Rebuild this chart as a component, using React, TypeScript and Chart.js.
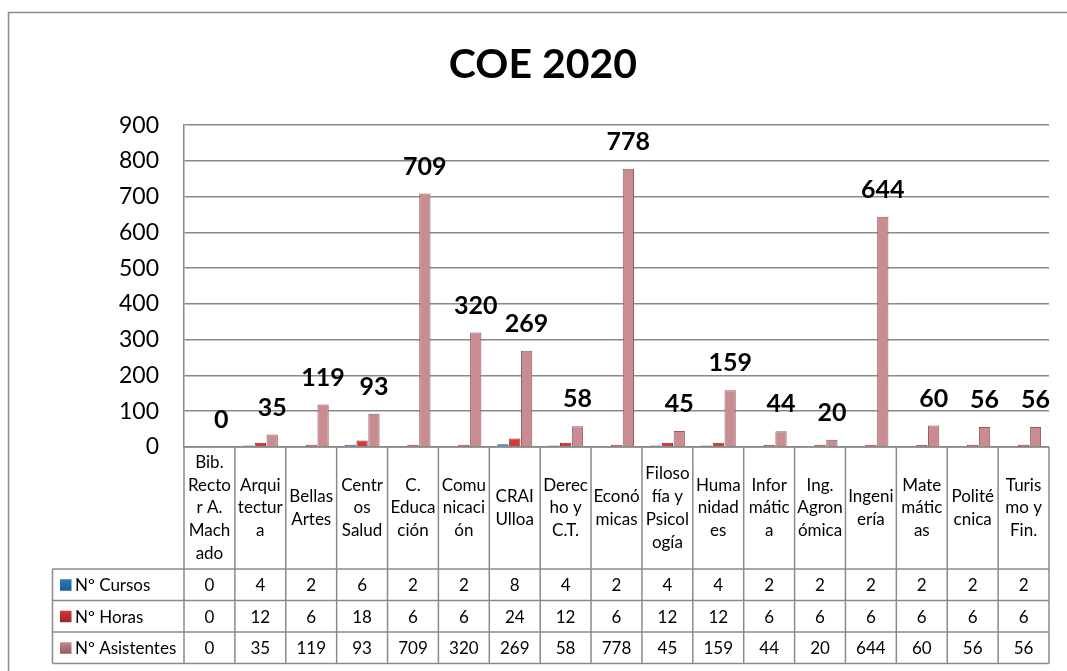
import React, { useEffect, useRef } from "react";
import { Chart, registerables } from "chart.js";

Chart.register(...registerables);

const categories = [
  "Bib. Rector A. Machado", "Arquitectura", "Bellas Artes", "Centros Salud", "C. Educación",
  "Comunicación", "CRAI Ulloa", "Derecho y C.T.", "Económicas", "Filosofía y Psicología",
  "Humanidades", "Informática", "Ing. Agronómica", "Ingeniería", "Matemáticas", "Politécnica", "Turismo y Fin.",
];
const categoryLines = [
  ["Bib.", "Recto", "r A.", "Mach", "ado"],
  ["Arqui", "tectur", "a"],
  ["Bellas", "Artes"],
  ["Centr", "os", "Salud"],
  ["C.", "Educa", "ción"],
  ["Comu", "nicaci", "ón"],
  ["CRAI", "Ulloa"],
  ["Derec", "ho y", "C.T."],
  ["Econó", "micas"],
  ["Filoso", "fía y", "Psicol", "ogía"],
  ["Huma", "nidad", "es"],
  ["Infor", "mátic", "a"],
  ["Ing.", "Agron", "ómica"],
  ["Ingeni", "ería"],
  ["Mate", "mátic", "as"],
  ["Polité", "cnica"],
  ["Turis", "mo y", "Fin."],
];
const seriesNames = ["Nº Cursos", "Nº Horas", "Nº Asistentes"];
const cursos = [0, 4, 2, 6, 2, 2, 8, 4, 2, 4, 4, 2, 2, 2, 2, 2, 2];
const horas = [0, 12, 6, 18, 6, 6, 24, 12, 6, 12, 12, 6, 6, 6, 6, 6, 6];
const asistentes = [0, 35, 119, 93, 709, 320, 269, 58, 778, 45, 159, 44, 20, 644, 60, 56, 56];
const yTicks = [0, 100, 200, 300, 400, 500, 600, 700, 800, 900];

const FONT = "Lato, 'Open Sans', sans-serif";
const fills = ["#2F7BC0", "#D23A3A", "#C98D91"];
const borders = ["#1D5A92", "#9E2626", "#95595D"];

const tablePlugin = {
  id: "tablePlugin",
  beforeDraw(chart: any) {
    const ctx = chart.ctx;
    ctx.save();
    ctx.fillStyle = "#ffffff";
    ctx.fillRect(0, 0, chart.width, chart.height);
    ctx.strokeStyle = "#8a8a8a";
    ctx.lineWidth = 1.5;
    ctx.beginPath();
    ctx.moveTo(8.5, chart.height);
    ctx.lineTo(8.5, 12.5);
    ctx.lineTo(chart.width, 12.5);
    ctx.stroke();
    ctx.restore();
  },
  afterDatasetsDraw(chart: any) {
    const ctx = chart.ctx;
    const area = chart.chartArea;
    const xs = chart.scales.x;
    const n = categories.length;
    const colW = (area.right - area.left) / n;
    const headerBottom = area.bottom + 122;
    const rowH = 31.5;
    const legendLeft = 52.5;
    ctx.save();

    // data labels for Asistentes
    const meta = chart.getDatasetMeta(2);
    ctx.font = `bold 25px ${FONT}`;
    ctx.fillStyle = "#000";
    ctx.textAlign = "center";
    ctx.textBaseline = "middle";
    meta.data.forEach((bar: any, i: number) => {
      ctx.fillText(String(asistentes[i]), bar.x, bar.y - 27);
    });

    // table grid
    ctx.strokeStyle = "#8a8a8a";
    ctx.lineWidth = 1.5;
    ctx.beginPath();
    ctx.moveTo(area.left, area.bottom);
    ctx.lineTo(area.right, area.bottom);
    for (let i = 0; i <= n; i++) {
      const xx = i < n ? xs.getPixelForValue(i) - colW / 2 : xs.getPixelForValue(n - 1) + colW / 2;
      ctx.moveTo(xx, area.bottom);
      ctx.lineTo(xx, headerBottom + rowH * 3);
    }
    ctx.moveTo(legendLeft, headerBottom);
    ctx.lineTo(legendLeft, headerBottom + rowH * 3);
    for (let r = 0; r <= 3; r++) {
      const yy = headerBottom + rowH * r;
      ctx.moveTo(legendLeft, yy);
      ctx.lineTo(area.right, yy);
    }
    ctx.stroke();

    // header labels
    ctx.fillStyle = "#000";
    ctx.font = `17px ${FONT}`;
    const lh = 22.7;
    const hc = (area.bottom + headerBottom) / 2;
    categoryLines.forEach((lines, i) => {
      const cx = xs.getPixelForValue(i);
      const start = hc - ((lines.length - 1) * lh) / 2;
      lines.forEach((t, k) => ctx.fillText(t, cx, start + k * lh));
    });

    // rows
    const rows = [cursos, horas, asistentes];
    rows.forEach((vals, r) => {
      const cy = headerBottom + rowH * r + rowH / 2;
      ctx.textAlign = "center";
      vals.forEach((v, i) => ctx.fillText(String(v), xs.getPixelForValue(i), cy + 1));
      const grad = ctx.createLinearGradient(60, cy - 6, 60, cy + 6);
      grad.addColorStop(0, fills[r]);
      grad.addColorStop(1, borders[r]);
      ctx.fillStyle = grad;
      ctx.fillRect(60, cy - 5.5, 11.5, 11.5);
      ctx.fillStyle = "#000";
      ctx.textAlign = "left";
      ctx.fillText(seriesNames[r], 75, cy + 1);
    });
    ctx.restore();
  },
};

export default function App() {
  const ref = useRef<HTMLCanvasElement | null>(null);
  useEffect(() => {
    document.body.style.margin = "0";
    const chart = new Chart(ref.current as HTMLCanvasElement, {
      type: "bar",
      data: {
        labels: categories,
        datasets: [cursos, horas, asistentes].map((d, i) => ({
          label: seriesNames[i],
          data: d,
          backgroundColor: fills[i],
          borderColor: borders[i],
          borderWidth: 1,
          categoryPercentage: 0.7,
          barPercentage: 0.95,
        })),
      },
      options: {
        animation: false,
        responsive: false,
        layout: { padding: { top: 0, right: 18, bottom: 224, left: 37 } },
        plugins: {
          legend: { display: false },
          tooltip: { enabled: false },
          title: {
            display: true,
            text: "COE 2020",
            color: "#000",
            font: { family: FONT, size: 41, weight: "bold" },
            padding: { top: 40, bottom: 36 },
          },
        },
        scales: {
          x: { display: false },
          y: {
            min: 0,
            max: 900,
            afterBuildTicks: (s: any) => { s.ticks = yTicks.map((v) => ({ value: v })); },
            afterFit: (s: any) => { s.width = 147; },
            ticks: { color: "#000", font: { family: FONT, size: 23 }, padding: 25 },
            grid: { color: "#8a8a8a", lineWidth: 1.5, drawTicks: false },
            border: { display: true, color: "#8a8a8a", width: 1.5 },
          },
        },
      },
      plugins: [tablePlugin],
    });
    return () => chart.destroy();
  }, []);
  return <canvas ref={ref} width={1067} height={671} style={{ display: "block" }} />;
}
